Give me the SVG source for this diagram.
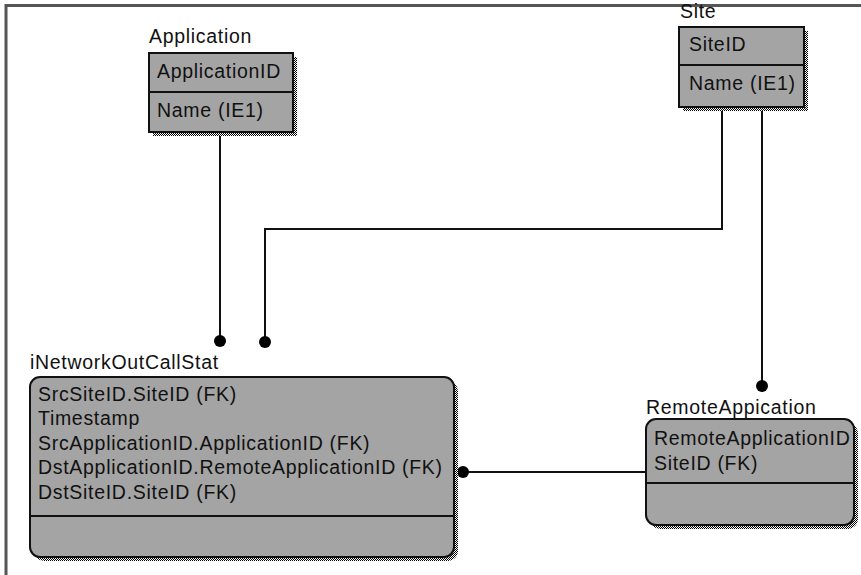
<svg xmlns="http://www.w3.org/2000/svg" width="861" height="575" viewBox="0 0 861 575">
<defs>
<pattern id="dots" width="2" height="2" patternUnits="userSpaceOnUse">
<rect width="2" height="2" fill="#ffffff"/>
<rect x="0" y="0" width="1" height="1" fill="#000000"/>
<rect x="1" y="1" width="1" height="1" fill="#000000"/>
</pattern>
<style>
.box{fill:#a4a4a4;stroke:#111;stroke-width:2}
.shadow{fill:url(#dots);stroke:none}
.div{stroke:#111;stroke-width:2}
.t{font-family:"Liberation Sans",Arial,sans-serif;font-size:19.5px;letter-spacing:0.7px;fill:#111}
.line{stroke:#111;stroke-width:2;fill:none}
.dot{fill:#000}
.frame{stroke:#555;stroke-width:3;fill:none}
</style>
</defs>
<rect width="861" height="575" fill="#ffffff"/>
<path class="frame" d="M6,575 V5.5 H861"/>
<g id="connectors">
<path class="line" d="M220,132 V341"/>
<path class="line" d="M722,107 V229 H265 V342"/>
<path class="line" d="M762,107 V386"/>
<path class="line" d="M458,472 H646"/>
<circle class="dot" cx="220" cy="341" r="6"/>
<circle class="dot" cx="265" cy="342" r="6"/>
<circle class="dot" cx="762" cy="386" r="6"/>
<circle class="dot" cx="463" cy="472" r="6"/>
</g>
<g id="Application">
<rect class="shadow" x="153" y="57" width="144" height="79"/>
<rect class="box" x="149" y="53" width="144" height="79"/>
<line class="div" x1="149" y1="92" x2="293" y2="92"/>
<text class="t" x="149" y="43">Application</text>
<text class="t" x="157" y="78">ApplicationID</text>
<text class="t" x="157" y="117">Name (IE1)</text>
</g>
<g id="Site">
<rect class="shadow" x="683" y="31" width="125" height="80"/>
<rect class="box" x="679" y="27" width="125" height="80"/>
<line class="div" x1="679" y1="65" x2="804" y2="65"/>
<text class="t" x="680" y="18">Site</text>
<text class="t" x="689" y="51">SiteID</text>
<text class="t" x="689" y="90">Name (IE1)</text>
</g>
<g id="iNetworkOutCallStat">
<rect class="shadow" x="34" y="381" width="424" height="180" rx="10"/>
<rect class="box" x="30" y="377" width="424" height="180" rx="10"/>
<line class="div" x1="30" y1="516" x2="454" y2="516"/>
<text class="t" x="30" y="369">iNetworkOutCallStat</text>
<text class="t" x="38" y="401">SrcSiteID.SiteID (FK)</text>
<text class="t" x="38" y="425">Timestamp</text>
<text class="t" x="38" y="450">SrcApplicationID.ApplicationID (FK)</text>
<text class="t" x="38" y="474">DstApplicationID.RemoteApplicationID (FK)</text>
<text class="t" x="38" y="499">DstSiteID.SiteID (FK)</text>
</g>
<g id="RemoteApplication">
<rect class="shadow" x="650" y="423" width="208" height="106" rx="10"/>
<rect class="box" x="646" y="419" width="208" height="106" rx="10"/>
<line class="div" x1="646" y1="483" x2="854" y2="483"/>
<text class="t" x="646" y="414">RemoteAppication</text>
<text class="t" x="654" y="445">RemoteApplicationID</text>
<text class="t" x="654" y="470">SiteID (FK)</text>
</g>
</svg>
